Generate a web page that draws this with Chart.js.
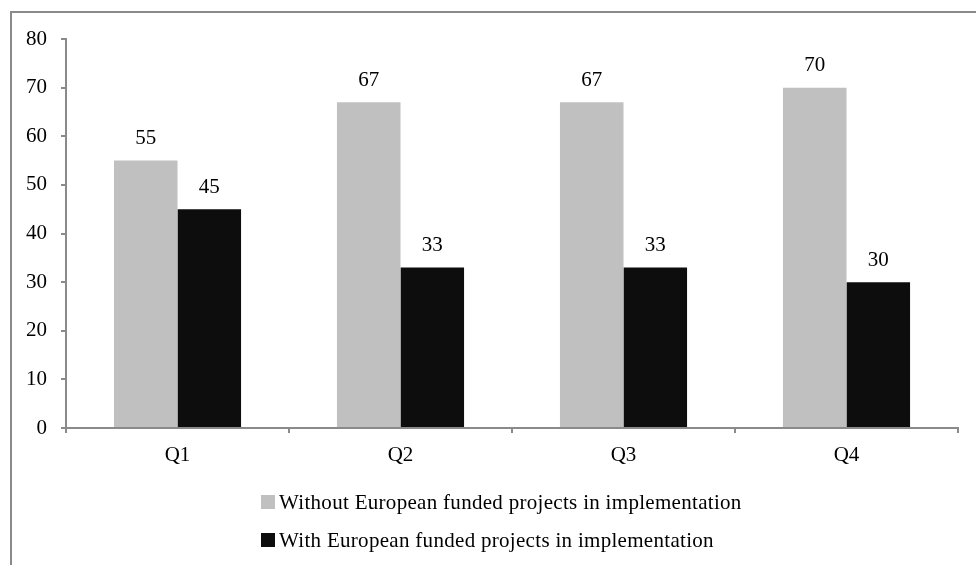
<!DOCTYPE html>
<html>
<head>
<meta charset="utf-8">
<script src="https://cdn.jsdelivr.net/npm/chart.js@4/dist/chart.umd.min.js"></script>
<style>
  html, body { margin: 0; padding: 0; background: #fff; }
  #wrap { position: relative; width: 976px; height: 565px; overflow: hidden; }
  #frame { position: absolute; left: 10px; top: 11px; width: 980px; height: 600px;
           border-left: 2px solid #8a8a8a; border-top: 2px solid #8a8a8a; box-sizing: border-box; }
  #chart { position: absolute; left: 0; top: 0; }
  #legend { position: absolute; left: 261px; top: 483px; font-family: "Liberation Serif", "Times New Roman", serif;
            font-size: 21px; letter-spacing: 0.3px; color: #000; }
  #legend div { height: 38px; display: flex; align-items: center; }
  #legend span.box { display: inline-block; width: 14px; height: 14px; margin-right: 4px; }
</style>
</head>
<body>
<div id="wrap">
  <div id="frame"></div>
  <canvas id="chart" width="976" height="565"></canvas>
  <div id="legend"></div>
</div>
<script>
var quarters = ["Q1", "Q2", "Q3", "Q4"];
var withoutEU = [55, 67, 67, 70];
var withEU = [45, 33, 33, 30];
var seriesNames = ["Without European funded projects in implementation", "With European funded projects in implementation"];
var seriesColors = ["#c0c0c0", "#0d0d0d"];

var serif = "'Liberation Serif', 'Times New Roman', serif";

var valueLabels = {
  id: "valueLabels",
  afterDatasetsDraw: function(chart) {
    var ctx = chart.ctx;
    ctx.save();
    ctx.font = "21px " + serif;
    ctx.fillStyle = "#000";
    ctx.textAlign = "center";
    ctx.textBaseline = "middle";
    chart.data.datasets.forEach(function(ds, i) {
      chart.getDatasetMeta(i).data.forEach(function(bar, j) {
        ctx.fillText(ds.data[j], bar.x, bar.y - 22);
      });
    });
    ctx.restore();
  }
};

var ctx = document.getElementById("chart");
var myChart = new Chart(ctx, {
  type: "bar",
  data: {
    labels: quarters,
    datasets: [
      { label: seriesNames[0], data: withoutEU, backgroundColor: seriesColors[0] },
      { label: seriesNames[1], data: withEU, backgroundColor: seriesColors[1] }
    ]
  },
  options: {
    responsive: false,
    animation: false,
    events: [],
    categoryPercentage: 0.57,
    barPercentage: 1,
    layout: { padding: { top: 39, right: 18, left: 0, bottom: 0 } },
    plugins: { legend: { display: false }, tooltip: { enabled: false } },
    scales: {
      x: {
        grid: { drawOnChartArea: false, tickLength: 5, color: "#8a8a8a", lineWidth: 2 },
        border: { color: "#8a8a8a", width: 2 },
        ticks: { color: "#000", font: { family: serif, size: 21 }, padding: 10 },
        afterFit: function(s) { s.height = 565 - 428; }
      },
      y: {
        min: 0, max: 80,
        grid: { drawOnChartArea: false, tickLength: 5, color: "#8a8a8a", lineWidth: 2 },
        border: { color: "#8a8a8a", width: 2 },
        ticks: { stepSize: 10, color: "#000", font: { family: serif, size: 21 }, padding: 14 },
        afterFit: function(s) { s.width = 66; }
      }
    }
  },
  plugins: [valueLabels]
});

var legend = document.getElementById("legend");
seriesNames.forEach(function(name, i) {
  var row = document.createElement("div");
  var box = document.createElement("span");
  box.className = "box";
  box.style.background = seriesColors[i];
  row.appendChild(box);
  row.appendChild(document.createTextNode(name));
  legend.appendChild(row);
});
</script>
</body>
</html>
